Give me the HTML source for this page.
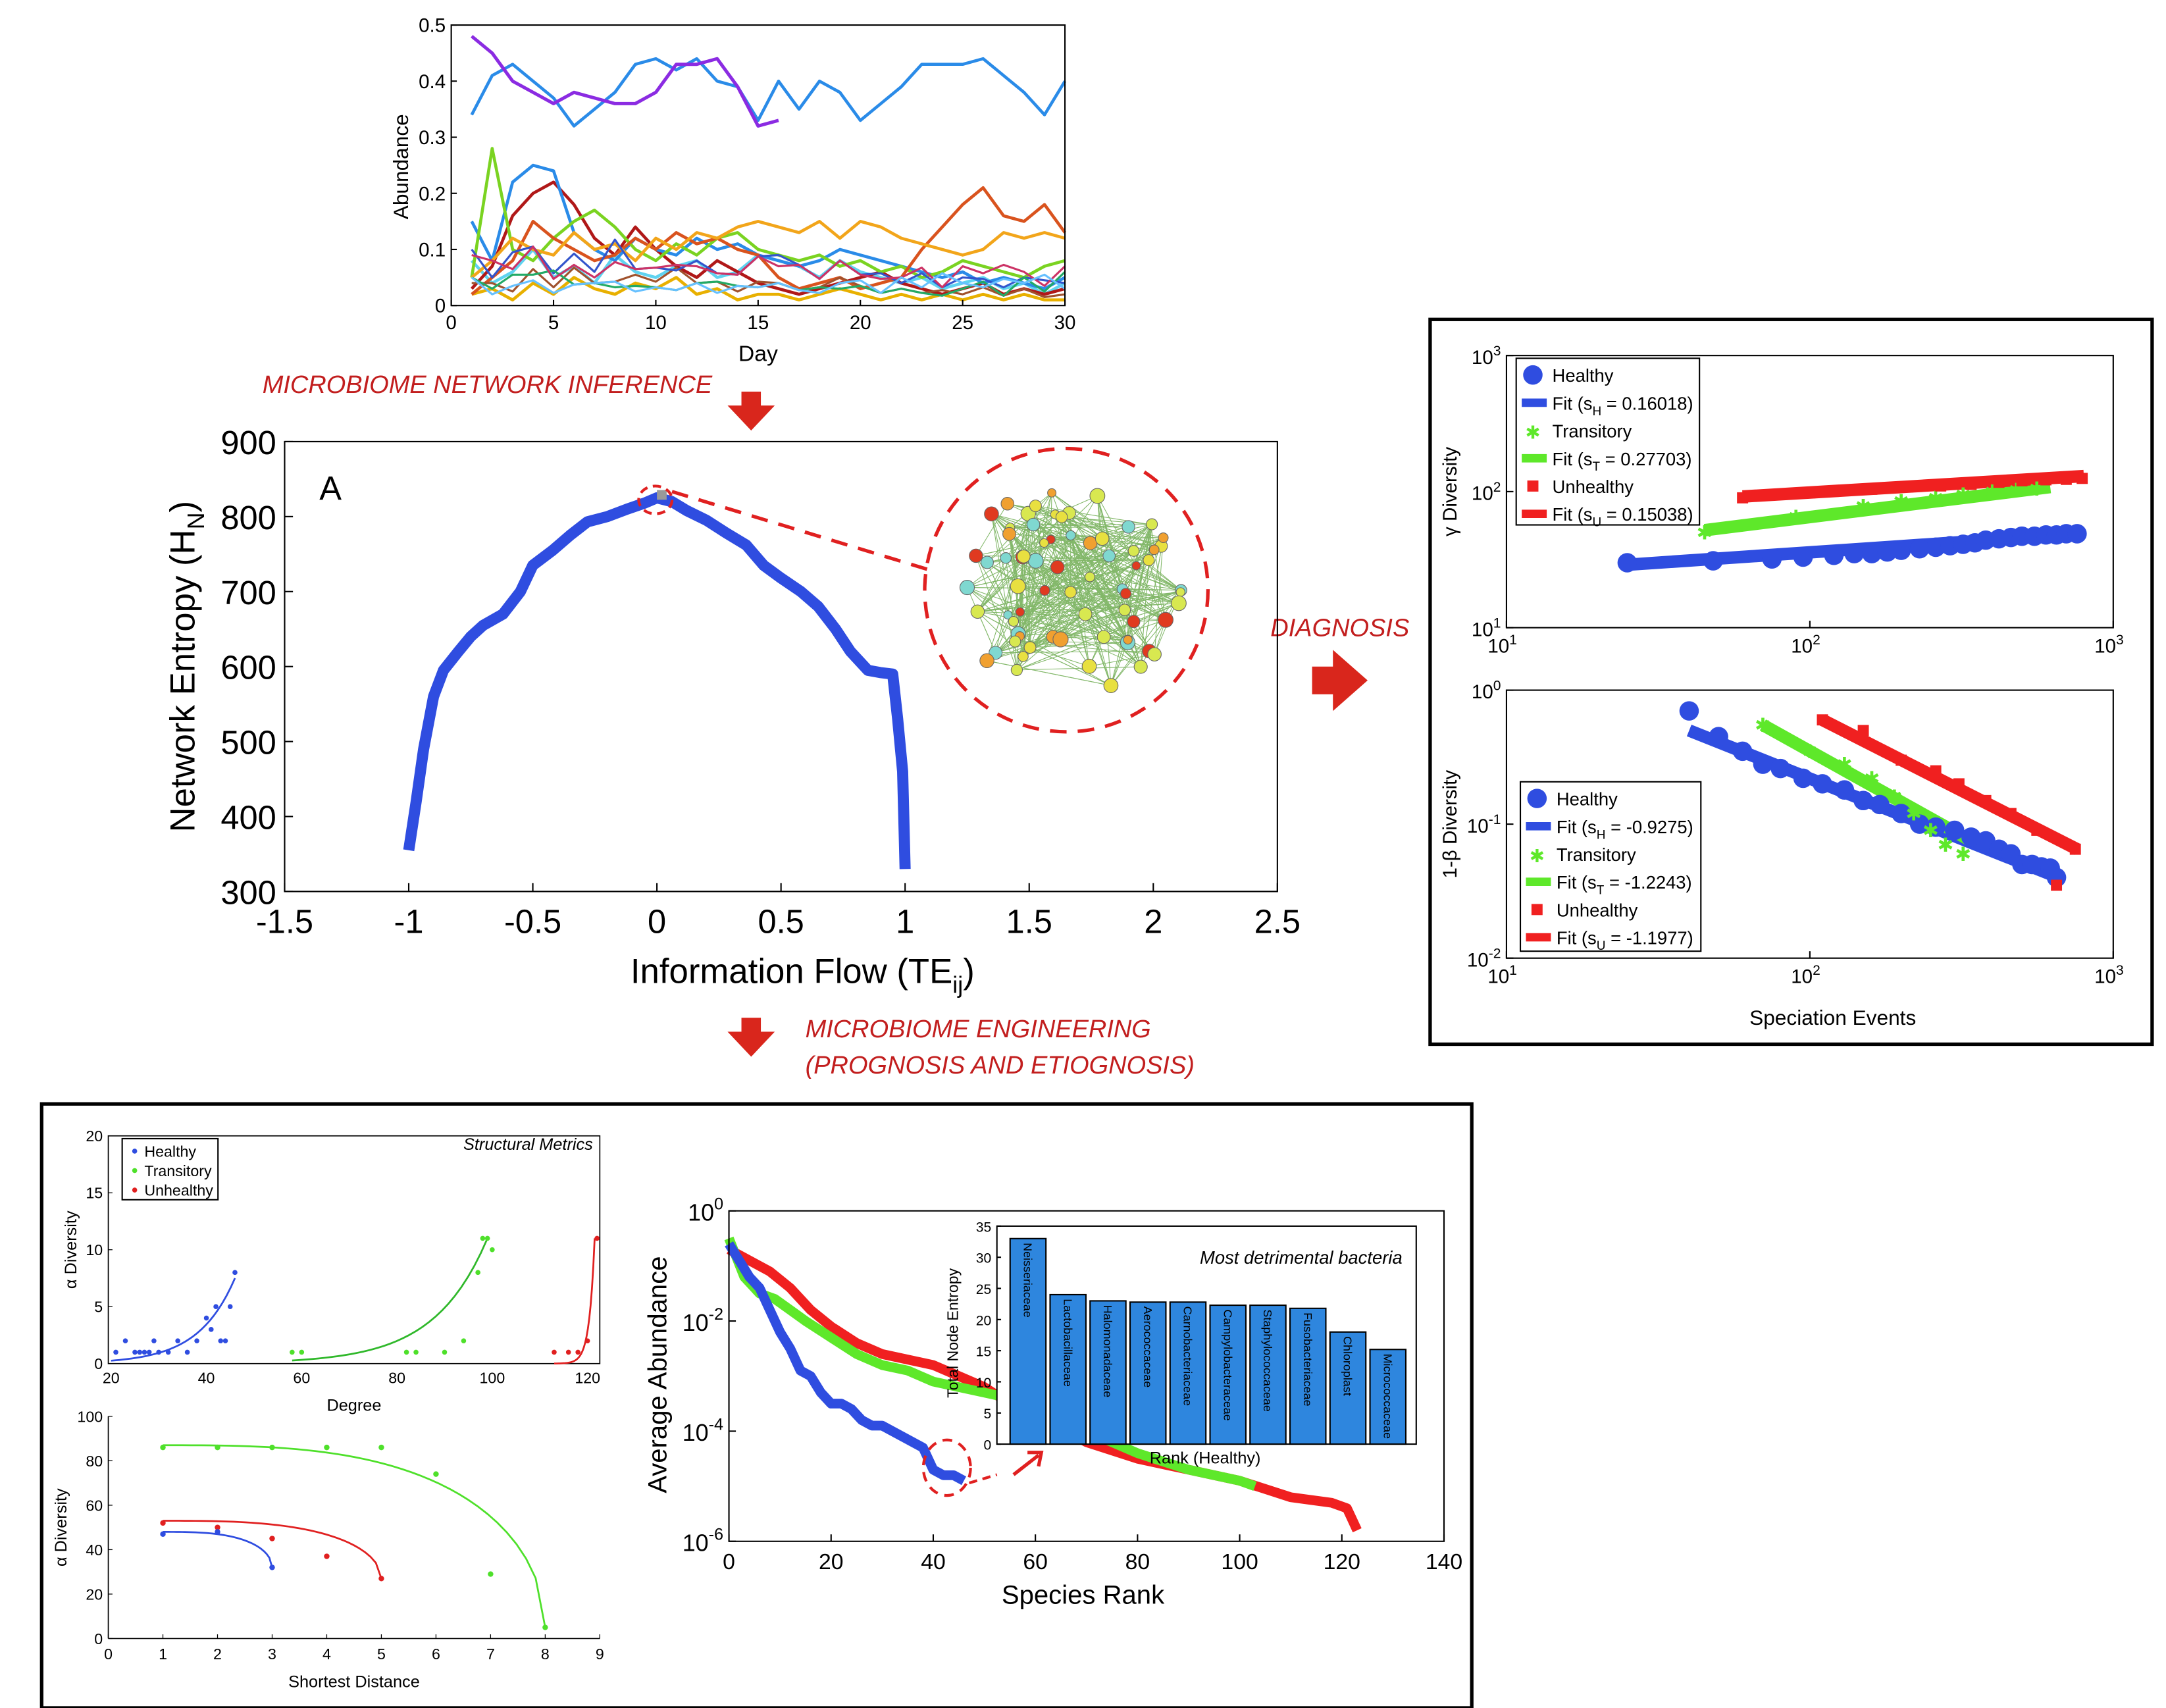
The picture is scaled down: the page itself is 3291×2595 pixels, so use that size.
<!DOCTYPE html>
<html><head><meta charset="utf-8"><style>
html,body{margin:0;padding:0;background:#fff;}
svg{display:block;font-family:"Liberation Sans",sans-serif;}
</style></head><body>
<svg id="fig" width="3291" height="2595" viewBox="0 0 1560 1230" xmlns="http://www.w3.org/2000/svg">
<rect x="0" y="0" width="1560" height="1230" fill="#fff"/>
<g id="g"></g>
</svg>
<script>
// ===== data: time series panel =====
const tsDays = [1,2,3,4,5,6,7,8,9,10,11,12,13,14,15,16,17,18,19,20,21,22,23,24,25,26,27,28,29,30];
const tsBlue = [0.34,0.41,0.43,0.40,0.37,0.32,0.35,0.38,0.43,0.44,0.42,0.44,0.40,0.39,0.33,0.40,0.35,0.40,0.38,0.33,0.36,0.39,0.43,0.43,0.43,0.44,0.41,0.38,0.34,0.40];
const tsPurple = [0.48,0.45,0.40,0.38,0.36,0.38,0.37,0.36,0.36,0.38,0.43,0.43,0.44,0.39,0.32,0.33];
const tsOrange = [0.05,0.08,0.12,0.10,0.09,0.13,0.10,0.11,0.08,0.12,0.10,0.13,0.12,0.14,0.15,0.14,0.13,0.15,0.12,0.15,0.14,0.12,0.11,0.10,0.09,0.10,0.13,0.12,0.13,0.12];
const tsRed = [0.02,0.05,0.08,0.15,0.12,0.10,0.08,0.09,0.12,0.10,0.13,0.11,0.12,0.10,0.09,0.05,0.03,0.04,0.05,0.03,0.04,0.05,0.10,0.14,0.18,0.21,0.16,0.15,0.18,0.13];
const tsGreen = [0.05,0.28,0.10,0.08,0.12,0.15,0.17,0.14,0.10,0.08,0.11,0.09,0.12,0.13,0.10,0.09,0.08,0.09,0.07,0.08,0.06,0.07,0.05,0.06,0.08,0.07,0.06,0.05,0.07,0.08];
const tsBlue2 = [0.15,0.08,0.22,0.25,0.24,0.13,0.10,0.08,0.12,0.10,0.09,0.12,0.10,0.11,0.09,0.08,0.07,0.08,0.10,0.09,0.08,0.07,0.06,0.05,0.06,0.04,0.05,0.04,0.03,0.05];
const tsDarkRed = [0.03,0.07,0.16,0.20,0.22,0.18,0.12,0.09,0.14,0.10,0.07,0.05,0.08,0.06,0.04,0.03,0.02,0.03,0.04,0.05,0.06,0.04,0.03,0.02,0.03,0.04,0.02,0.03,0.02,0.03];
const tsCyan = [0.08,0.04,0.06,0.10,0.05,0.07,0.04,0.09,0.06,0.05,0.07,0.08,0.05,0.06,0.09,0.08,0.07,0.05,0.08,0.06,0.05,0.04,0.05,0.03,0.04,0.05,0.03,0.04,0.02,0.04];
const tsYellow = [0.02,0.03,0.01,0.04,0.02,0.05,0.03,0.02,0.04,0.03,0.05,0.02,0.03,0.01,0.02,0.02,0.01,0.02,0.03,0.02,0.01,0.02,0.01,0.02,0.01,0.02,0.01,0.02,0.01,0.01];
const tsXTicks = [0,5,10,15,20,25,30];
const tsYTicks = [0,0.1,0.2,0.3,0.4,0.5];

// ===== data: panel A =====
const aX = [-1,-0.97,-0.94,-0.9,-0.86,-0.8,-0.75,-0.7,-0.62,-0.55,-0.5,-0.42,-0.35,-0.28,-0.2,-0.12,-0.05,0,0.06,0.12,0.2,0.28,0.36,0.43,0.5,0.58,0.65,0.72,0.78,0.85,0.9,0.95,0.97,0.99,1.0];
const aY = [355,420,490,560,595,620,640,655,670,700,735,755,775,793,800,810,818,825,820,808,795,778,762,735,718,700,680,650,620,595,592,590,530,460,330];
const aXTicks = [-1.5,-1,-0.5,0,0.5,1,1.5,2,2.5];
const aYTicks = [300,400,500,600,700,800,900];

// ===== data: gamma diversity =====
const gH_x = [25,48,75,95,120,140,160,180,200,230,260,290,320,350,380,420,460,500,550,600,650,700,760];
const gH_y = [30,31,32,33,34,35,35,36,37,38,39,40,41,42,44,45,46,47,47,48,48,49,49];
const gT_x = [45,90,150,200,260,320,400,480,560];
const gT_y = [50,65,78,85,90,95,100,103,105];
const gU_x = [60,100,160,210,270,340,420,500,600,700,790];
const gU_y = [90,98,104,108,110,113,117,120,122,123,125];
const gFitH = [[25,29],[800,49]];
const gFitT = [[45,52],[620,108]];
const gFitU = [[60,92],[800,130]];

// ===== data: beta diversity =====
const bH_x = [40,50,60,70,80,95,110,130,150,170,200,230,260,300,340,380,420,460,500,540,580,620,650];
const bH_y = [0.7,0.45,0.35,0.28,0.26,0.22,0.2,0.18,0.15,0.14,0.12,0.1,0.095,0.09,0.08,0.075,0.065,0.06,0.05,0.05,0.048,0.047,0.04];
const bT_x = [70,100,130,160,190,220,250,280,320];
const bT_y = [0.55,0.35,0.28,0.22,0.16,0.12,0.09,0.07,0.06];
const bU_x = [110,150,200,260,310,380,460,560,650,750];
const bU_y = [0.6,0.5,0.3,0.25,0.2,0.15,0.12,0.09,0.035,0.065];
const bFitH = [[40,0.5],[660,0.04]];
const bFitT = [[70,0.55],[340,0.075]];
const bFitU = [[110,0.6],[760,0.065]];

// ===== data: structural metrics =====
const sDegH = [21,23,25,26,27,28,29,30,32,34,36,38,40,41,42,43,44,45,46];
const sAlphaH = [1,2,1,1,1,1,2,1,1,2,1,2,4,3,5,2,2,5,8];
const sDegT = [58,60,82,84,90,94,97,98,99,100];
const sAlphaT = [1,1,1,1,1,2,8,11,11,10];
const sDegU = [113,116,118,120,122];
const sAlphaU = [1,1,1,2,11];
const sdH_x = [1,2,3]; const sdH_y = [47,48,32];
const sdT_x = [1,2,3,4,5,6,7,8]; const sdT_y = [86,86,86,86,86,74,29,5];
const sdU_x = [1,2,3,4,5]; const sdU_y = [52,50,45,37,27];

// ===== data: rank abundance =====
const rH_x = [0,2,4,6,8,10,12,14,16,18,20,22,24,26,28,30,32,34,36,38,40,42,44,46];
const rH_y = [-0.6,-0.9,-1.2,-1.4,-1.8,-2.2,-2.5,-2.9,-3.0,-3.3,-3.5,-3.5,-3.6,-3.8,-3.9,-3.9,-4.0,-4.1,-4.2,-4.3,-4.7,-4.8,-4.8,-4.9];
const rT_x = [0,3,6,9,12,15,20,25,30,35,40,45,50,55,60,70,80,90,100,103];
const rT_y = [-0.5,-1.2,-1.5,-1.6,-1.8,-2.0,-2.3,-2.6,-2.8,-2.9,-3.1,-3.2,-3.3,-3.4,-3.6,-4.0,-4.4,-4.7,-4.9,-5.0];
const rU_x = [0,4,8,12,16,20,25,30,35,40,45,50,55,60,70,80,90,100,110,118,121,122,123];
const rU_y = [-0.7,-0.9,-1.1,-1.4,-1.8,-2.1,-2.4,-2.6,-2.7,-2.8,-3.0,-3.2,-3.5,-3.7,-4.2,-4.5,-4.7,-4.9,-5.2,-5.3,-5.4,-5.6,-5.8];
const barNames = ["Neisseriaceae","Lactobacillaceae","Halomonadaceae","Aerococcaceae","Carnobacteriaceae","Campylobacteraceae","Staphylococcaceae","Fusobacteriaceae","Chloroplast","Micrococcaceae"];
const barVals = [33,24,23,22.8,22.8,22.3,22.3,21.8,18,15.2];

const NS="http://www.w3.org/2000/svg";
const G=document.getElementById('g');
function el(tag,attrs,parent,name,inter){const e=document.createElementNS(NS,tag);for(const k in attrs)e.setAttribute(k,attrs[k]);


(parent||G).appendChild(e);return e;}
function txt(x,y,s,size,opt,name){opt=opt||{};const t=el('text',Object.assign({x:x,y:y,'font-size':size,fill:opt.fill||'#000','text-anchor':opt.anchor||'middle'},opt.extra||{}),opt.parent,name||'label');t.textContent=s;return t;}
function lin(d0,d1,r0,r1){return v=>r0+(v-d0)*(r1-r0)/(d1-d0);}
function logs(d0,d1,r0,r1){return v=>r0+(Math.log10(v)-Math.log10(d0))*(r1-r0)/(Math.log10(d1)-Math.log10(d0));}
function poly(xs,ys,sx,sy,color,w,name,extra){const p=xs.map((x,i)=>sx(x).toFixed(2)+','+sy(ys[i]).toFixed(2)).join(' ');return el('polyline',Object.assign({points:p,fill:'none',stroke:color,'stroke-width':w,'stroke-linejoin':'round','stroke-linecap':'butt'},extra||{}),null,name);}
function box(x0,y0,x1,y1,name,w){el('rect',{x:x0,y:y0,width:x1-x0,height:y1-y0,fill:'none',stroke:'#000','stroke-width':w||1},null,name);}

// ---------- time series ----------
(function(){
const x0=325,x1=767,y0=18,y1=220;
const sx=lin(0,30,x0,x1), sy=lin(0,0.5,y1,y0);
const series=[[tsYellow,'#e8b000'],[tsCyan,'#5fd3f0'],[tsDarkRed,'#b01818'],[tsBlue2,'#2a8be8'],[tsGreen,'#7ad321'],[tsRed,'#d9531e'],[tsOrange,'#f2a51a'],[tsBlue,'#2a8be8']];
series.forEach(([s,c],i)=>{poly(tsDays.slice(0,s.length),s,sx,sy,c,2.2,'abundance-series-'+i);});
const extraC=['#a0522d','#3355cc','#22aa66','#cc3366','#66c0ff'];
extraC.forEach((c,i)=>{const s=tsCyan.map((v,j)=>tsYellow[(j+i*3)%30]+v*0.5*((i%2)+0.5));poly(tsDays,s,sx,sy,c,1.5,'abundance-series-extra');});
poly(tsDays.slice(0,tsPurple.length),tsPurple,sx,sy,'#8b2be2',2.4,'abundance-series-purple');
box(x0,y0,x1,y1,'abundance-plot-frame');
tsXTicks.forEach(t=>{const x=sx(t);el('line',{x1:x,x2:x,y1:y1,y2:y1-4,stroke:'#000'},null,'x-tick');txt(x,y1+17,t,14,{},'x-tick-label');});
tsYTicks.forEach(t=>{const y=sy(t);el('line',{x1:x0,x2:x0+4,y1:y,y2:y,stroke:'#000'},null,'y-tick');txt(x0-4,y+5,t,14,{anchor:'end'},'y-tick-label');});
txt(546,260,'Day',16,{},'x-axis-title');
txt(294,120,'Abundance',15,{extra:{transform:'rotate(-90 294 120)'}},'y-axis-title');
})();

function redArrowDown(cx,ty,name){el('path',{d:`M${cx-7},${ty} h14 v10 h10 l-17,18 l-17,-18 h10 z`,fill:'#d9261c'},null,name);}
redArrowDown(541,282,'arrow-network-inference');
txt(351,283,'MICROBIOME  NETWORK  INFERENCE',18,{fill:'#c21e1e',extra:{'font-style':'italic'}},'annotation-network-inference');
redArrowDown(541,733,'arrow-engineering');
txt(580,747,'MICROBIOME  ENGINEERING',18,{fill:'#c21e1e',anchor:'start',extra:{'font-style':'italic'}},'annotation-engineering');
txt(580,773,'(PROGNOSIS AND ETIOGNOSIS)',18,{fill:'#c21e1e',anchor:'start',extra:{'font-style':'italic'}},'annotation-prognosis');
txt(915,458,'DIAGNOSIS',18,{fill:'#c21e1e',anchor:'start',extra:{'font-style':'italic'}},'annotation-diagnosis');
el('path',{d:'M945,480 h15 v-12 l25,22 l-25,22 v-12 h-15 z',fill:'#d9261c'},null,'arrow-diagnosis');

// ---------- panel A ----------
(function(){
const x0=205,x1=920,y0=318,y1=642;
const sx=lin(-1.5,2.5,x0,x1), sy=lin(300,900,y1,y0);
poly(aX,aY,sx,sy,'#2f4de0',8,'network-entropy-curve');
box(x0,y0,x1,y1,'panel-a-frame');
aXTicks.forEach(t=>{const x=sx(t);el('line',{x1:x,x2:x,y1:y1,y2:y1-6,stroke:'#000'},null,'x-tick');txt(x,y1+30,t,24,{},'x-tick-label');});
aYTicks.forEach(t=>{const y=sy(t);el('line',{x1:x0,x2:x0+6,y1:y,y2:y,stroke:'#000'},null,'y-tick');txt(x0-6,y+9,t,24,{anchor:'end'},'y-tick-label');});
const xt=txt(578,708,'Information Flow (TE',25,{},'x-axis-title');const s=el('tspan',{'font-size':17,dy:7},xt,'subscript');s.textContent='ij';const s2=el('tspan',{dy:-7},xt,'paren');s2.textContent=')';
const yt=txt(140,480,'Network Entropy (H',25,{extra:{transform:'rotate(-90 140 480)'}},'y-axis-title');const s3=el('tspan',{'font-size':17,dy:7},yt,'subscript');s3.textContent='N';const s4=el('tspan',{dy:-7},yt,'paren');s4.textContent=')';
txt(238,360,'A',24,{},'panel-label');
el('rect',{x:sx(0)+0,y:sy(828)-4,width:7,height:7,fill:'#999'},null,'peak-marker');
el('ellipse',{cx:472,cy:360,rx:12,ry:10,fill:'none',stroke:'#e02020','stroke-width':2,'stroke-dasharray':'6,4'},null,'peak-highlight');
el('line',{x1:484,y1:354,x2:668,y2:410,stroke:'#e02020','stroke-width':2.5,'stroke-dasharray':'12,8'},null,'zoom-line');
const cx=768,cy=425;
el('circle',{cx:cx,cy:cy,r:102,fill:'none',stroke:'#e02020','stroke-width':2.5,'stroke-dasharray':'12,8'},null,'network-zoom-circle');
let seed=7;const rnd=()=>{seed=(seed*16807)%2147483647;return seed/2147483647;};
const nodes=[];for(let i=0;i<70;i++){const a=rnd()*Math.PI*2,r=Math.sqrt(rnd())*82;nodes.push([cx+r*Math.cos(a)*1.05,cy+r*Math.sin(a)*0.92]);}
const eg=el('g',{stroke:'#4e9a2a','stroke-width':0.5,opacity:0.7},null,'network-edges');
for(let i=0;i<420;i++){const a=nodes[Math.floor(rnd()*70)],b=nodes[Math.floor(rnd()*70)];el('line',{x1:a[0],y1:a[1],x2:b[0],y2:b[1]},eg,'edge');}
const cols=['#e8e040','#f0a030','#e03a20','#7fd8d0','#d8e850'];
nodes.forEach(n=>{el('circle',{cx:n[0],cy:n[1],r:3+rnd()*2.5,fill:cols[Math.floor(rnd()*5)],stroke:'#666','stroke-width':0.5},null,'network-node');});
})();

// ---------- diagnosis panel ----------
box(1030,230,1550,752,'diagnosis-panel-frame',2.5);
function logAxes(x0,x1,y0,y1,yd0,yd1,ylab,yTicks,yLabs){
 box(x0,y0,x1,y1,'plot-frame');
 const xs=[10,100,1000];xs.forEach((t,i)=>{const x=x0+(x1-x0)*i/2;el('line',{x1:x,x2:x,y1:y1,y2:y1-5,stroke:'#000'},null,'x-tick');
 const tt=txt(x-3,y1+18,'10',14,{},'x-tick-label');const s=el('tspan',{'font-size':10,dy:-6},tt,'exponent');s.textContent=String(i+1);});
 yTicks.forEach((e,i)=>{const y=y1-(y1-y0)*i/(yTicks.length-1);el('line',{x1:x0,x2:x0+5,y1:y,y2:y,stroke:'#000'},null,'y-tick');
 const tt=txt(x0-4,y+6,'10',14,{anchor:'end'},'y-tick-label');const s=el('tspan',{'font-size':10,dy:-6},tt,'exponent');s.textContent=e;});
 const ym=(y0+y1)/2;txt(x0-36,ym,ylab,14,{extra:{transform:`rotate(-90 ${x0-36} ${ym})`}},'y-axis-title');
}
function legendBlock(x,y,w,h,items){box(x,y,x+w,y+h,'legend-box');items.forEach((it,i)=>{const yy=y+12+i*20;
 if(it.type==='dot')el('circle',{cx:x+12,cy:yy,r:it.r||6,fill:it.c},null,'legend-marker');
 else if(it.type==='sq')el('rect',{x:x+8,y:yy-4,width:8,height:8,fill:it.c},null,'legend-marker');
 else if(it.type==='star')txt(x+12,yy+6,'✱',13,{fill:it.c},'legend-marker');
 else el('line',{x1:x+4,x2:x+22,y1:yy,y2:yy,stroke:it.c,'stroke-width':6},null,'legend-line');
 const t=txt(x+26,yy+5,it.t,13,{anchor:'start'},'legend-entry');if(it.sub){const s=el('tspan',{'font-size':9,dy:4},t,'subscript');s.textContent=it.sub;const s2=el('tspan',{dy:-4},t,'legend-text');s2.textContent=it.t2;}});}
(function(){
const x0=1085,x1=1522,y0=256,y1=452;
const sx=logs(10,1000,x0,x1), sy=logs(10,1000,y1,y0);
logAxes(x0,x1,y0,y1,10,1000,'γ Diversity',['1','2','3']);
el('line',{x1:sx(gFitH[0][0]),y1:sy(gFitH[0][1]),x2:sx(gFitH[1][0]),y2:sy(gFitH[1][1]),stroke:'#2f4de0','stroke-width':9},null,'gamma-fit-healthy');
el('line',{x1:sx(gFitT[0][0]),y1:sy(gFitT[0][1]),x2:sx(gFitT[1][0]),y2:sy(gFitT[1][1]),stroke:'#5ee82a','stroke-width':9},null,'gamma-fit-transitory');
el('line',{x1:sx(gFitU[0][0]),y1:sy(gFitU[0][1]),x2:sx(gFitU[1][0]),y2:sy(gFitU[1][1]),stroke:'#f02020','stroke-width':9},null,'gamma-fit-unhealthy');
gH_x.forEach((x,i)=>el('circle',{cx:sx(x),cy:sy(gH_y[i]),r:7,fill:'#2f4de0'},null,'gamma-point-healthy'));
gT_x.forEach((x,i)=>txt(sx(x),sy(gT_y[i])+5,'✱',14,{fill:'#5ee82a'},'gamma-point-transitory'));
gU_x.forEach((x,i)=>el('rect',{x:sx(x)-4,y:sy(gU_y[i])-4,width:8,height:8,fill:'#f02020'},null,'gamma-point-unhealthy'));
legendBlock(1092,258,132,120,[{type:'dot',c:'#2f4de0',t:'Healthy',r:7},{type:'line',c:'#2f4de0',t:'Fit (s',sub:'H',t2:' = 0.16018)'},{type:'star',c:'#5ee82a',t:'Transitory'},{type:'line',c:'#5ee82a',t:'Fit (s',sub:'T',t2:' = 0.27703)'},{type:'sq',c:'#f02020',t:'Unhealthy'},{type:'line',c:'#f02020',t:'Fit (s',sub:'U',t2:' = 0.15038)'}]);
})();
(function(){
const x0=1085,x1=1522,y0=497,y1=690;
const sx=logs(10,1000,x0,x1), sy=logs(0.01,1,y1,y0);
logAxes(x0,x1,y0,y1,0.01,1,'1-β Diversity',['-2','-1','0']);
[[bFitH,'#2f4de0','healthy'],[bFitT,'#5ee82a','transitory'],[bFitU,'#f02020','unhealthy']].forEach(([f,c,n])=>el('line',{x1:sx(f[0][0]),y1:sy(f[0][1]),x2:sx(f[1][0]),y2:sy(f[1][1]),stroke:c,'stroke-width':9},null,'beta-fit-'+n));
bH_x.forEach((x,i)=>el('circle',{cx:sx(x),cy:sy(bH_y[i]),r:7,fill:'#2f4de0'},null,'beta-point-healthy'));
bT_x.forEach((x,i)=>txt(sx(x),sy(bT_y[i])+5,'✱',14,{fill:'#5ee82a'},'beta-point-transitory'));
bU_x.forEach((x,i)=>el('rect',{x:sx(x)-4,y:sy(bU_y[i])-4,width:8,height:8,fill:'#f02020'},null,'beta-point-unhealthy'));
legendBlock(1095,563,130,122,[{type:'dot',c:'#2f4de0',t:'Healthy',r:7},{type:'line',c:'#2f4de0',t:'Fit (s',sub:'H',t2:' = -0.9275)'},{type:'star',c:'#5ee82a',t:'Transitory'},{type:'line',c:'#5ee82a',t:'Fit (s',sub:'T',t2:' = -1.2243)'},{type:'sq',c:'#f02020',t:'Unhealthy'},{type:'line',c:'#f02020',t:'Fit (s',sub:'U',t2:' = -1.1977)'}]);
txt(1320,738,'Speciation Events',15,{},'x-axis-title');
})();

// ---------- engineering panel ----------
box(30,795,1060,1230,'engineering-panel-frame',2.5);
(function(){
const x0=78,x1=432,y0=818,y1=982;
const sx=lin(20,122,x0+2,x1-2), sy=lin(0,20,y1,y0);
box(x0,y0,x1,y1,'structural-plot-frame',0.8);
[20,40,60,80,100,120].forEach(t=>{const x=sx(t);txt(x,y1+14,t,11,{},'x-tick-label');});
[0,5,10,15,20].forEach(t=>{const y=sy(t);el('line',{x1:x0,x2:x0+3,y1:y,y2:y,stroke:'#000','stroke-width':0.6},null,'y-tick');txt(x0-4,y+4,t,11,{anchor:'end'},'y-tick-label');});
txt(255,1016,'Degree',12,{},'x-axis-title');
txt(55,900,'α Diversity',12,{extra:{transform:'rotate(-90 55 900)'}},'y-axis-title');
txt(427,828,'Structural Metrics',12,{anchor:'end',extra:{'font-style':'italic'}},'structural-title');
const fit=(a,b,d0,d1,name,c)=>{const xs=[],ys=[];for(let i=0;i<=30;i++){const d=d0+(d1-d0)*i/30;xs.push(d);ys.push(a*Math.exp(b*(d-d1)));}poly(xs,ys,sx,sy,c,1.3,name);};
fit(7.5,0.13,20,46,'fit-healthy','#2f4de0');fit(11,0.09,58,99,'fit-transitory','#2fb82a');fit(11,0.9,113,121.5,'fit-unhealthy','#e02020');
sDegH.forEach((x,i)=>el('circle',{cx:sx(x),cy:sy(sAlphaH[i]),r:1.8,fill:'#2f4de0'},null,'structural-point-healthy'));
sDegT.forEach((x,i)=>el('circle',{cx:sx(x),cy:sy(sAlphaT[i]),r:1.8,fill:'#4ee02a'},null,'structural-point-transitory'));
sDegU.forEach((x,i)=>el('circle',{cx:sx(x),cy:sy(sAlphaU[i]),r:1.8,fill:'#e02020'},null,'structural-point-unhealthy'));
box(88,820,157,864,'structural-legend');
[['Healthy','#2f4de0'],['Transitory','#4ee02a'],['Unhealthy','#e02020']].forEach(([t,c],i)=>{el('circle',{cx:97,cy:829+i*14,r:1.8,fill:c},null,'legend-marker');txt(104,833+i*14,t,11,{anchor:'start'},'legend-entry');});
})();
(function(){
const x0=78,x1=432,y0=1020,y1=1180;
const sx=lin(0,9,x0,x1), sy=lin(0,100,y1,y0);
el('line',{x1:x0,y1:y0,x2:x0,y2:y1,stroke:'#000','stroke-width':0.8},null,'y-axis-line');
el('line',{x1:x0,y1:y1,x2:x1,y2:y1,stroke:'#000','stroke-width':0.8},null,'x-axis-line');
[0,1,2,3,4,5,6,7,8,9].forEach(t=>{const x=sx(t);el('line',{x1:x,x2:x,y1:y1,y2:y1-3,stroke:'#000','stroke-width':0.6},null,'x-tick');txt(x,y1+15,t,11,{},'x-tick-label');});
[0,20,40,60,80,100].forEach(t=>{const y=sy(t);el('line',{x1:x0,x2:x0+3,y1:y,y2:y,stroke:'#000','stroke-width':0.6},null,'y-tick');txt(x0-4,y+4,t,11,{anchor:'end'},'y-tick-label');});
txt(255,1215,'Shortest Distance',12,{},'x-axis-title');
txt(48,1100,'α Diversity',12,{extra:{transform:'rotate(-90 48 1100)'}},'y-axis-title');
const arc=(xs,ys,c,name)=>{const n=xs.length;const a=xs[0],b=xs[n-1],top=ys[0]+1,bot=ys[n-1];const px=[],py=[];for(let i=0;i<=40;i++){const t=i/40;const x=a+(b-a)*t;px.push(x);py.push(bot+(top-bot)*Math.sqrt(1-Math.pow(t,3)));}poly(px,py,sx,sy,c,1.3,name);xs.forEach((x,i)=>el('circle',{cx:sx(x),cy:sy(ys[i]),r:2,fill:c},null,name+'-point'));};
arc(sdT_x,sdT_y,'#4ee02a','distance-transitory');arc(sdU_x,sdU_y,'#e02020','distance-unhealthy');arc(sdH_x,sdH_y,'#2f4de0','distance-healthy');
})();
(function(){
const x0=525,x1=1040,y0=872,y1=1110;
const sx=lin(0,140,x0,x1), sy=lin(-6,0,y1,y0);
poly(rU_x,rU_y,sx,sy,'#f02020',7,'rank-unhealthy');
poly(rT_x,rT_y,sx,sy,'#5ee82a',7,'rank-transitory');
poly(rH_x,rH_y,sx,sy,'#2f4de0',7,'rank-healthy');
box(x0,y0,x1,y1,'rank-plot-frame');
[0,20,40,60,80,100,120,140].forEach(t=>{const x=sx(t);el('line',{x1:x,x2:x,y1:y1,y2:y1-5,stroke:'#000'},null,'x-tick');txt(x,y1+20,t,16,{},'x-tick-label');});
[-6,-4,-2,0].forEach(t=>{const y=sy(t);el('line',{x1:x0,x2:x0+5,y1:y,y2:y,stroke:'#000'},null,'y-tick');const tt=txt(x0-4,y+7,'10',17,{anchor:'end'},'y-tick-label');const s=el('tspan',{'font-size':12,dy:-8},tt,'exponent');s.textContent=t;});
txt(780,1155,'Species Rank',19,{},'x-axis-title');
txt(480,990,'Average Abundance',19,{extra:{transform:'rotate(-90 480 990)'}},'y-axis-title');
el('ellipse',{cx:682,cy:1057,rx:17,ry:20,fill:'none',stroke:'#e02020','stroke-width':2,'stroke-dasharray':'7,5'},null,'tail-highlight');
el('line',{x1:698,y1:1068,x2:718,y2:1062,stroke:'#e02020','stroke-width':2,'stroke-dasharray':'6,4'},null,'tail-zoom-line');
el('path',{d:'M730,1062 L748,1048 M740,1046 L750,1046 L748,1056',stroke:'#e02020','stroke-width':2.5,fill:'none'},null,'tail-arrow');
const ix0=718,ix1=1020,iy0=883,iy1=1040;
el('rect',{x:ix0,y:iy0,width:ix1-ix0,height:iy1-iy0,fill:'#fff',stroke:'#000'},null,'inset-frame');
const isy=lin(0,35,iy1,iy0);const bw=(ix1-ix0-14)/barNames.length;
barVals.forEach((v,i)=>{const bx=ix0+8+i*bw;el('rect',{x:bx+1.5,y:isy(v),width:bw-3,height:iy1-isy(v),fill:'#2e86de',stroke:'#000','stroke-width':1},null,'bar-'+barNames[i].toLowerCase());
 const cxx=bx+bw/2-3,cyy=isy(v)+3;txt(cxx,cyy,barNames[i],8.5,{anchor:'start',extra:{transform:`rotate(90 ${cxx} ${cyy})`}},'bar-label');});
[0,5,10,15,20,25,30,35].forEach(t=>{const y=isy(t);el('line',{x1:ix0,x2:ix0+3,y1:y,y2:y,stroke:'#000'},null,'inset-y-tick');txt(ix0-4,y+4,t,10,{anchor:'end'},'inset-y-tick-label');});
txt(690,960,'Total Node Entropy',11,{extra:{transform:'rotate(-90 690 960)'}},'inset-y-axis-title');
txt(868,1054,'Rank (Healthy)',12,{},'inset-x-axis-title');
txt(1010,910,'Most detrimental bacteria',13,{anchor:'end',extra:{'font-style':'italic'}},'inset-title');
})();
</script>
</body></html>
